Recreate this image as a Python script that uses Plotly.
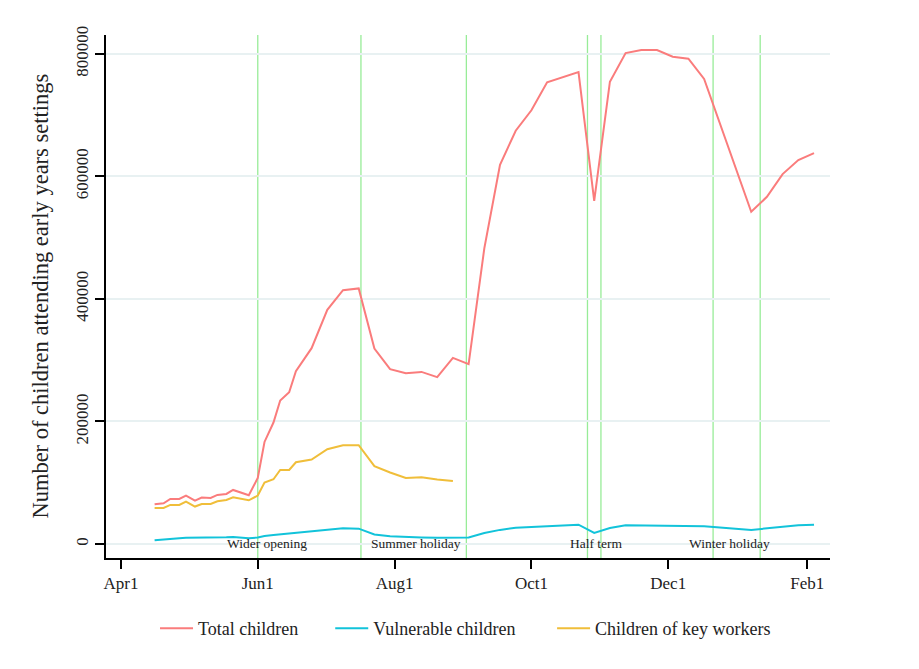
import plotly.graph_objects as go

# ---- data ----
dates = ["2020-04-16", "2020-04-20", "2020-04-23", "2020-04-27", "2020-04-30",
         "2020-05-04", "2020-05-07", "2020-05-11", "2020-05-14", "2020-05-18",
         "2020-05-21", "2020-05-25", "2020-05-28", "2020-06-01", "2020-06-04",
         "2020-06-08", "2020-06-11", "2020-06-15", "2020-06-18", "2020-06-25",
         "2020-07-02", "2020-07-09", "2020-07-16", "2020-07-23", "2020-07-30",
         "2020-08-06", "2020-08-13", "2020-08-20", "2020-08-27", "2020-09-03",
         "2020-09-10", "2020-09-17", "2020-09-24", "2020-10-01", "2020-10-08",
         "2020-10-22", "2020-10-29", "2020-11-05", "2020-11-12", "2020-11-19",
         "2020-11-26", "2020-12-03", "2020-12-10", "2020-12-17", "2021-01-07",
         "2021-01-14", "2021-01-21", "2021-01-28", "2021-02-04"]

total_children = [64800, 66400, 73500, 73500, 79000, 70900, 75800, 75100, 80000, 81600,
                  88200, 83900, 79500, 107800, 166500, 198200, 234100, 247700, 282000, 319500,
                  382000, 414200, 417000, 319000, 285200, 278700, 280800, 272200, 303700, 293400,
                  482300, 618800, 674300, 707600, 753300, 770100, 560000, 754300, 801100, 806000,
                  806000, 795100, 791800, 758700, 542000, 566500, 603600, 626400, 637900]

vulnerable_children = [6000, 7500, 8500, 9500, 10000, 10000, 10500, 11000, 11000, 11000,
                       11500, 10500, 9500, 10500, 13000, 14500, 15500, 17000, 18000, 20000,
                       22500, 25500, 25000, 15500, 12500, 11000, 10500, 10000, 9800, 10500,
                       18000, 23000, 26500, 27500, 28500, 31500, 18000, 26000, 30500, 30000,
                       29500, 29000, 29500, 29000, 23000, 25500, 28500, 30500, 31500]

key_worker_dates = dates[:29]
key_worker_children = [58800, 58800, 63700, 63700, 69200, 61100, 65300, 65300, 69700, 71800,
                       76200, 74100, 71300, 79000, 100200, 105600, 120800, 120800, 133400, 137800,
                       154600, 161100, 161100, 126900, 116600, 107800, 108900, 105100, 102900]

series_names = ["Total children", "Vulnerable children", "Children of key workers"]

event_dates = ["2020-06-01", "2020-07-17", "2020-09-02", "2020-10-26",
               "2020-11-01", "2020-12-21", "2021-01-11"]
event_labels = ["Wider opening", "Summer holiday", "Half term", "Winter holiday"]
event_label_dates = ["2020-06-05", "2020-08-10 08:00", "2020-10-30 04:00", "2020-12-28 06:00"]

x_ticks = ["2020-04-01", "2020-06-01", "2020-08-01", "2020-10-01", "2020-12-01", "2021-02-01"]
x_tick_labels = ["Apr1", "Jun1", "Aug1", "Oct1", "Dec1", "Feb1"]
y_ticks = [0, 200000, 400000, 600000, 800000]

FONT = "Liberation Serif"
TXT = "#222222"
NB = "\u00a0"  # spacing between legend entries

fig = go.Figure()
fig.add_trace(go.Scatter(x=dates, y=total_children, mode="lines", name=series_names[0] + NB * 6,
                         line=dict(color="#FA7C7C", width=2)))
fig.add_trace(go.Scatter(x=dates, y=vulnerable_children, mode="lines", name=series_names[1] + NB * 7,
                         line=dict(color="#12C3DA", width=2)))
fig.add_trace(go.Scatter(x=key_worker_dates, y=key_worker_children, mode="lines",
                         name=series_names[2],
                         line=dict(color="#F0BE3A", width=2)))

for d in event_dates:
    fig.add_shape(type="line", xref="x", yref="paper", x0=d, x1=d, y0=0, y1=1,
                  line=dict(color="#98EC98", width=1.3), layer="below")

for lab, d in zip(event_labels, event_label_dates):
    fig.add_annotation(x=d, y=0, xref="x", yref="y", text=lab, showarrow=False,
                       xanchor="center", yanchor="middle",
                       font=dict(family=FONT, size=13.5, color=TXT))

fig.add_annotation(text="Number of children attending early years settings",
                   xref="paper", yref="paper", x=-0.091, y=0.5, textangle=-90,
                   showarrow=False, xanchor="center", yanchor="middle",
                   font=dict(family=FONT, size=22.5, color=TXT))

fig.update_layout(
    width=911, height=661,
    margin=dict(l=98, r=89, t=27, b=111),
    paper_bgcolor="white", plot_bgcolor="white",
    font=dict(family=FONT, size=17, color=TXT),
    showlegend=True,
    legend=dict(orientation="h", x=0.0677, y=-0.135, xanchor="left", yanchor="middle",
                font=dict(family=FONT, size=18, color=TXT), itemwidth=33),
)
fig.update_xaxes(
    type="date", range=["2020-03-25 08:00", "2021-02-11 03:00"],
    tickmode="array", tickvals=x_ticks, ticktext=x_tick_labels,
    showgrid=False, zeroline=False,
    showline=True, linecolor="black", linewidth=1.5, mirror=False,
    ticks="outside", ticklen=9, tickwidth=1.5, tickcolor="black",
    tickfont=dict(family=FONT, size=17, color=TXT),
)
fig.update_yaxes(
    range=[-22860, 830500],
    tickmode="array", tickvals=y_ticks, ticktext=[str(v) for v in y_ticks],
    tickangle=-90,
    showgrid=True, gridcolor="#E8F1F2", gridwidth=1.5, zeroline=False,
    showline=True, linecolor="black", linewidth=1.5, mirror=False,
    ticks="outside", ticklen=9, tickwidth=1.5, tickcolor="black",
    tickfont=dict(family=FONT, size=17, color=TXT),
)

fig.write_html("out.html")
